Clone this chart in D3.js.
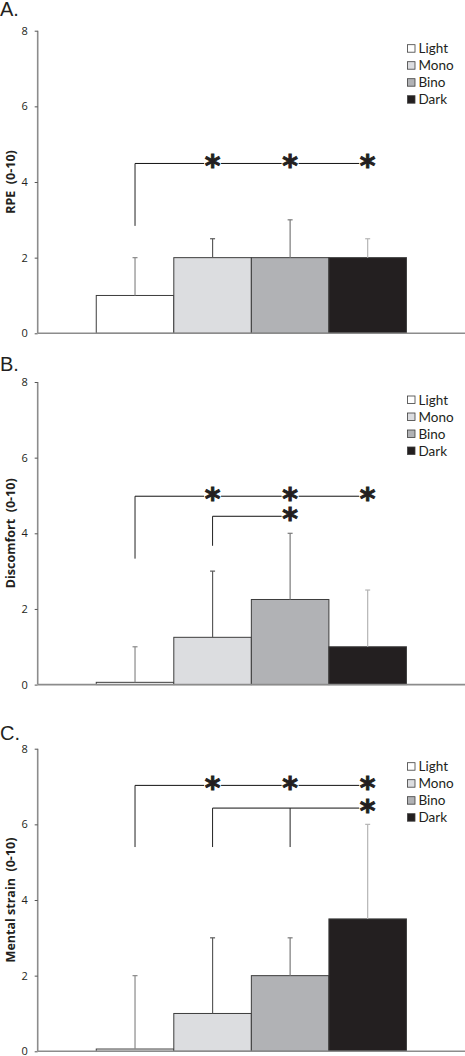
<!DOCTYPE html>
<html>
<head>
<meta charset="utf-8">
<script src="https://cdn.jsdelivr.net/npm/d3@7"></script>
<style>
  body { margin: 0; background: #fff; }
  svg { display: block; }
</style>
</head>
<body>
<script>
// conditions + tick values
var conditions = ["Light", "Mono", "Bino", "Dark"];
var yTicks = [0, 2, 4, 6, 8];
var panelLetters = ["A.", "B.", "C."];
var yTitles = ["RPE  (0-10)", "Discomfort  (0-10)", "Mental strain  (0-10)"];

// means and SD (upper error only)
var rpeMean = [1, 2, 2, 2];
var rpeSd = [1, 0.5, 1, 0.5];
var discomfortMean = [0.06, 1.25, 2.25, 1];
var discomfortSd = [0.94, 1.75, 1.75, 1.5];
var mentalMean = [0.06, 1, 2, 3.5];
var mentalSd = [1.94, 2, 1, 2.5];

// significance brackets: vertical drops, stars on the line
var rpeSig = [{drops: ["Light"], stars: ["Mono", "Bino", "Dark"], y: 4.49, bottom: 2.84}];
var discomfortSig = [
  {drops: ["Light"], stars: ["Mono", "Bino", "Dark"], y: 4.98, bottom: 3.33},
  {drops: ["Mono"], stars: ["Bino"], y: 4.45, bottom: 3.67}
];
var mentalSig = [
  {drops: ["Light"], stars: ["Mono", "Bino", "Dark"], y: 7.03, bottom: 5.4},
  {drops: ["Mono", "Bino"], stars: ["Dark"], y: 6.43, bottom: 5.4}
];

var fills = ["#ffffff", "#dcdde0", "#b1b2b5", "#231f20"];
var errColors = ["#8a8a8a", "#5a5a5a", "#7a7a7a", "#b5b5b5"];

var W = 465, H = 1056;
var axisLeft = 37.7, axisRight = 465;
var panelTops = [30.7, 382, 748.7];
var panelH = 302.6;
var letterY = [16, 370.5, 740];

var svg = d3.select("body").append("svg")
    .attr("width", W)
    .attr("height", H);

var x = d3.scaleBand()
    .domain(conditions)
    .range([axisLeft, axisRight])
    .paddingInner(0)
    .paddingOuter(0.755);

var color = d3.scaleOrdinal().domain(conditions).range(fills);
var errColor = d3.scaleOrdinal().domain(conditions).range(errColors);

var panels = [
  {mean: rpeMean, sd: rpeSd, sig: rpeSig},
  {mean: discomfortMean, sd: discomfortSd, sig: discomfortSig},
  {mean: mentalMean, sd: mentalSd, sig: mentalSig}
];

panels.forEach(function(p, k) {
  var top = panelTops[k];
  var y = d3.scaleLinear().domain([0, 8]).range([top + panelH, top]);
  var g = svg.append("g");

  // panel letter
  g.append("text")
      .attr("x", 0)
      .attr("y", letterY[k])
      .attr("font-family", "Liberation Sans, Arial, sans-serif")
      .attr("font-size", "20px")
      .attr("fill", "#231f20")
      .text(panelLetters[k]);

  // y title
  g.append("text")
      .attr("transform", "translate(15," + y(4) + ") rotate(-90)")
      .attr("text-anchor", "middle")
      .attr("font-family", "Open Sans, sans-serif")
      .attr("font-weight", "bold")
      .attr("font-size", "12.5px")
      .attr("fill", "#231f20")
      .style("white-space", "pre")
      .text(yTitles[k]);

  var data = conditions.map(function(c, i) {
    return {cond: c, mean: p.mean[i], sd: p.sd[i]};
  });

  // bars
  g.selectAll("rect.bar")
    .data(data)
    .enter()
    .append("rect")
      .attr("class", "bar")
      .attr("x", function(d) { return x(d.cond); })
      .attr("y", function(d) { return y(d.mean); })
      .attr("width", x.bandwidth())
      .attr("height", function(d) { return y(0) - y(d.mean); })
      .style("fill", function(d) { return color(d.cond); })
      .style("stroke", "#3d3d3d")
      .style("stroke-width", 1);

  // error bars (upper)
  var cx = function(d) { return x(d.cond) + x.bandwidth() / 2; };
  g.selectAll("line.err")
    .data(data)
    .enter()
    .append("line")
      .attr("x1", cx).attr("x2", cx)
      .attr("y1", function(d) { return y(d.mean); })
      .attr("y2", function(d) { return y(d.mean + d.sd); })
      .style("stroke", function(d) { return errColor(d.cond); })
      .style("stroke-width", 1.2);
  g.selectAll("line.cap")
    .data(data)
    .enter()
    .append("line")
      .attr("x1", function(d) { return cx(d) - 2.5; })
      .attr("x2", function(d) { return cx(d) + 2.5; })
      .attr("y1", function(d) { return y(d.mean + d.sd); })
      .attr("y2", function(d) { return y(d.mean + d.sd); })
      .style("stroke", function(d) { return errColor(d.cond); })
      .style("stroke-width", 1.2);

  // axes
  var yAxis = d3.axisLeft(y).tickValues(yTicks).tickSize(3).tickPadding(7);
  var ya = g.append("g")
      .attr("transform", "translate(" + axisLeft + ",0)")
      .call(yAxis);
  ya.select(".domain").attr("stroke", "#8c8c8c").attr("stroke-width", 1.6)
      .attr("d", "M0," + y(8) + "V" + y(0));
  ya.selectAll(".tick line").attr("stroke", "#555");
  ya.selectAll(".tick text")
      .attr("font-family", "Open Sans, sans-serif")
      .attr("font-size", "11px")
      .attr("fill", "#231f20");

  g.append("line")
      .attr("x1", axisLeft).attr("x2", axisRight)
      .attr("y1", y(0)).attr("y2", y(0))
      .style("stroke", "#8c8c8c")
      .style("stroke-width", 1.6);

  // significance brackets
  p.sig.forEach(function(s) {
    var xs = s.drops.concat(s.stars).map(function(c) { return x(c) + x.bandwidth() / 2; });
    var x0 = d3.min(xs), x1 = d3.max(xs);
    g.append("line")
        .attr("x1", x0).attr("x2", x1)
        .attr("y1", y(s.y)).attr("y2", y(s.y))
        .style("stroke", "#111").style("stroke-width", 1);
    s.drops.forEach(function(c) {
      var dx = x(c) + x.bandwidth() / 2;
      g.append("line")
          .attr("x1", dx).attr("x2", dx)
          .attr("y1", y(s.y)).attr("y2", y(s.bottom))
          .style("stroke", "#222").style("stroke-width", 1);
    });
    s.stars.forEach(function(c) {
      var sx = x(c) + x.bandwidth() / 2;
      g.append("rect")
          .attr("x", sx - 8.5).attr("width", 17)
          .attr("y", y(s.y) - 3).attr("height", 6)
          .style("fill", "#fff");
      g.append("text")
          .attr("x", sx)
          .attr("y", y(s.y) + 13)
          .attr("text-anchor", "middle")
          .attr("font-family", "DejaVu Sans, sans-serif")
          .attr("font-weight", "bold")
          .attr("font-size", "30px")
          .attr("fill", "#231f20")
          .style("stroke", "#231f20")
          .style("stroke-width", 0.9)
          .text("*");
    });
  });

  // legend
  var lg = g.append("g")
      .attr("transform", "translate(407.5," + (top + 18) + ")");
  var rows = lg.selectAll("g")
    .data(conditions)
    .enter()
    .append("g")
      .attr("transform", function(d, i) { return "translate(0," + (i * 17) + ")"; });
  rows.append("rect")
      .attr("x", 0).attr("y", -4)
      .attr("width", 7.5).attr("height", 7.5)
      .style("fill", function(d) { return color(d); })
      .style("stroke", "#3d3d3d")
      .style("stroke-width", 0.8);
  rows.append("text")
      .attr("x", 11)
      .attr("y", 4.5)
      .attr("font-family", "Lato, sans-serif")
      .attr("font-size", "13.5px")
      .attr("fill", "#231f20")
      .text(function(d) { return d; });
});
</script>
</body>
</html>
